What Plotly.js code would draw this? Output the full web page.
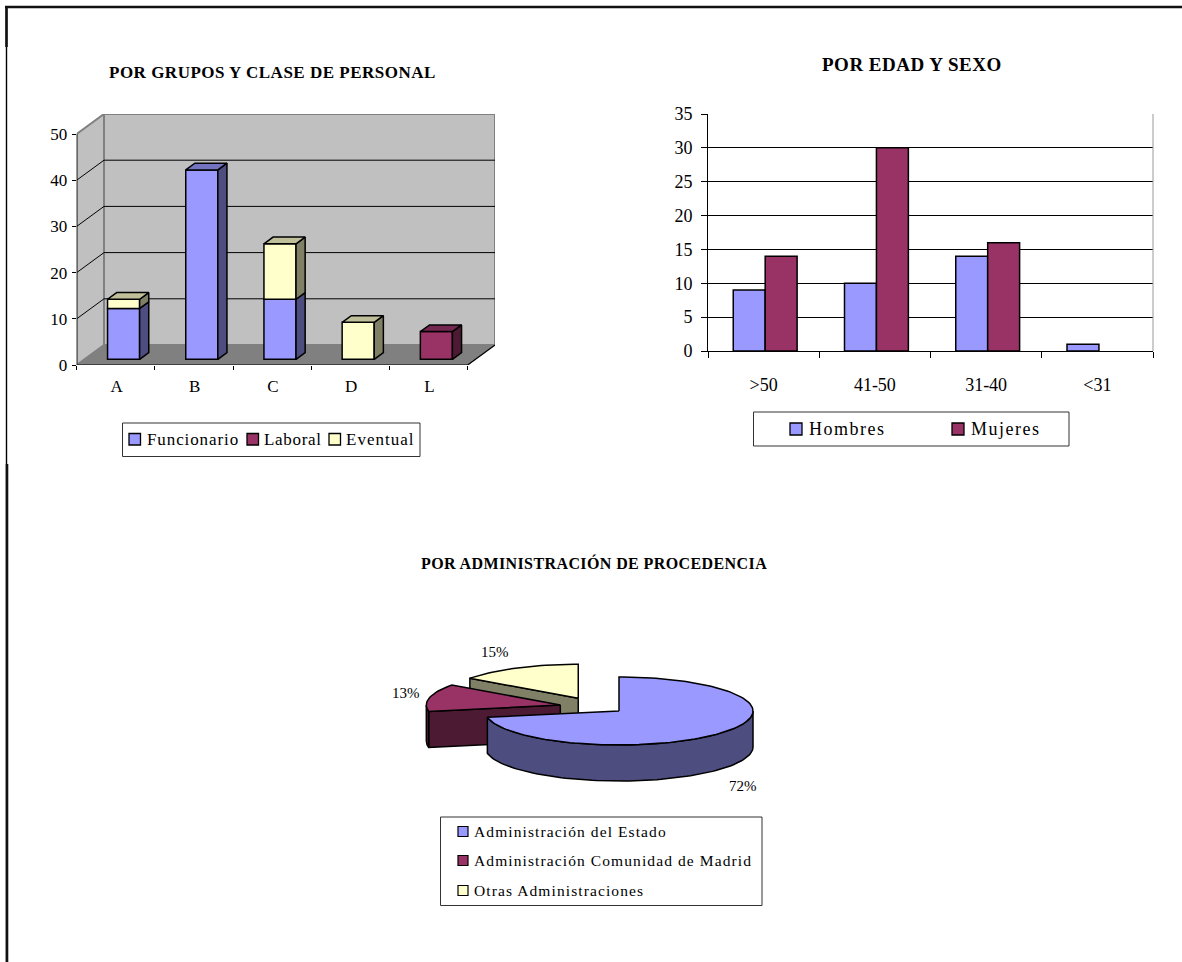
<!DOCTYPE html>
<html><head><meta charset="utf-8">
<script src="https://cdn.plot.ly/plotly-3.0.1.min.js"></script>
<style>html,body{margin:0;padding:0;background:#fff}#c{width:1182px;height:962px}</style>
</head><body><div id="c"></div>
<script>
// ---- data ----
const groupCats = ['A','B','C','D','L'];
const funcionario = [11,41,13,0,0];
const laboral = [0,0,0,0,6];
const eventual = [2,0,12,8,0];
const ageCats = ['>50','41-50','31-40','<31'];
const hombres = [9,10,14,1];
const mujeres = [14,30,16,0];
const adminNames = ['Administración del Estado','Administración Comunidad de Madrid','Otras Administraciones'];
const adminShares = [72,13,15];

// ---- style ----
const W=1182,H=962,SERIF='"Liberation Serif","Times New Roman",serif';
const BLUE=['#9999FF','#4D4D80','#7373C0'],MAR=['#993366','#4D1A33','#732650'],YEL=['#FFFFCC','#808066','#BFBF99'];
const px=x=>x/W, py=y=>1-y/H;
const traces=[],shapes=[],annotations=[];
const face=(xs,ys,fill,xa,ya,w)=>traces.push({type:'scatter',mode:'lines',x:[...xs,xs[0]],y:[...ys,ys[0]],fill:'toself',fillcolor:fill,
  line:{color:'#000',width:w||1.5},xaxis:xa,yaxis:ya,hoverinfo:'skip',showlegend:false});
const label=(t,x,y,size,opt={})=>annotations.push(Object.assign({text:t,xref:'paper',yref:'paper',x:px(x),y:py(y),showarrow:false,xanchor:'left',yanchor:'middle',
  font:{family:SERIF,size:size,color:'#000'},borderpad:0},opt));
const spaced=(t,s)=>`<span style="letter-spacing:${s}px">${t}</span>`;
const pbox=(x0,y0,x1,y1,fill,lc,lw)=>shapes.push({type:'rect',xref:'paper',yref:'paper',x0:px(x0),x1:px(x1),y0:py(y0),y1:py(y1),fillcolor:fill,line:{color:lc,width:lw},layer:'above'});
const pline=(x0,y0,x1,y1,lc,lw)=>shapes.push({type:'line',xref:'paper',yref:'paper',x0:px(x0),x1:px(x1),y0:py(y0),y1:py(y1),line:{color:lc,width:lw},layer:'above'});
const noZero=a=>a.map(v=>v||null);

// page frame
pline(5,7,1182,7,'#111',2.4);
pline(6.5,7,6.5,962,'#000',1.4);
pline(6.5,7,6.5,47,'#111',2.6);
pline(7,464,7,962,'#111',2.6);

// ---- left: stacked pseudo-3D columns ----
const L={x0:76.7,xf:467.7,y0:365,y50:134,dx:27.3,dy:20};
const catW=(L.xf-L.x0)/groupCats.length, unit=(L.y0-L.y50)/50, dxu=L.dx/catW, dyu=L.dy/unit;
const nC=groupCats.length,yBack=50+dyu,d0=0.285,d1=0.62,barW=0.41;
const xRange=[0,nC+dxu],yRange=[0,yBack];
const path=pts=>'M'+pts.map(p=>p[0]+','+p[1]).join('L');
const dshape=(pts,fill,lc,lw,close=true)=>shapes.push({type:'path',xref:'x',yref:'y',path:path(pts)+(close?'Z':''),fillcolor:fill,line:{color:lc,width:lw},layer:'below'});
dshape([[dxu,dyu],[nC+dxu,dyu],[nC+dxu,yBack],[dxu,yBack]],'#C0C0C0','#808080',2);
dshape([[0,0],[dxu,dyu],[dxu,yBack],[0,50]],'#C0C0C0','#808080',2);
dshape([[0,0],[nC,0],[nC+dxu,dyu],[dxu,dyu]],'#808080','#808080',1);
[10,20,30,40].forEach(v=>dshape([[0,v],[dxu,v+dyu],[nC+dxu,v+dyu]],'rgba(0,0,0,0)','#000',1,false));
dshape([[nC,0],[nC+dxu,dyu]],'rgba(0,0,0,0)','#000',1.2,false);

const centers=groupCats.map((c,i)=>i+0.5);
const base0=groupCats.map(()=>d0*dyu);
const stackOrder=[[funcionario,BLUE,'Funcionario'],[laboral,MAR,'Laboral'],[eventual,YEL,'Eventual']];
let running=base0.slice();
const totals=groupCats.map((c,i)=>funcionario[i]+laboral[i]+eventual[i]);
const faces=[];
stackOrder.forEach(([vals,col,name])=>{
  const base=running.slice();
  traces.push({type:'bar',name,x:centers,y:noZero(vals),base:base,width:barW,offset:-barW/2+d0*dxu,marker:{color:col[0],line:{color:'#000',width:1.5}},xaxis:'x',yaxis:'y',showlegend:false,cliponaxis:false});
  vals.forEach((v,i)=>{
    if(!v) return;
    const xl=centers[i]-barW/2+d0*dxu,xr=xl+barW,b=base[i],t=b+v;
    const ddx=(d1-d0)*dxu,ddy=(d1-d0)*dyu;
    faces.push(()=>face([xr,xr+ddx,xr+ddx,xr],[b,b+ddy,t+ddy,t],col[1],'x','y'));
    if(Math.abs(t-base0[i]-totals[i])<1e-9) faces.push(()=>face([xl,xr,xr+ddx,xl+ddx],[t,t,t+ddy,t+ddy],col[2],'x','y'));
  });
  running=running.map((r,i)=>r+vals[i]);
});
faces.forEach(f=>f());
traces.push({type:'scatter',mode:'lines',x:[0,0,nC],y:[50,0,0],line:{color:'#000',width:1.2},xaxis:'x',yaxis:'y',hoverinfo:'skip',showlegend:false});

label('<b>'+spaced('POR GRUPOS Y CLASE DE PERSONAL',0.5)+'</b>',272,73,17,{xanchor:'center'});
pbox(122.5,423,420,456.5,'#fff','#333',1);
[[129,146,stackOrder[0],0.9],[247,263,stackOrder[1],0.7],[329,345,stackOrder[2],1]].forEach(([sx,tx,s,ls])=>{
  pbox(sx,433.5,sx+11.5,445,s[1][0],'#000',1.3);
  label(spaced(s[2],ls),tx,439,17);
});

// ---- right: clustered columns ----
const bw=0.287,nudge=0.014;
traces.push({type:'bar',name:'Hombres',x:ageCats,y:noZero(hombres),width:bw,offset:-bw+nudge,marker:{color:BLUE[0],line:{color:'#000',width:1.5}},xaxis:'x2',yaxis:'y2',showlegend:false});
traces.push({type:'bar',name:'Mujeres',x:ageCats,y:noZero(mujeres),width:bw,offset:nudge,marker:{color:MAR[0],line:{color:'#000',width:1.5}},xaxis:'x2',yaxis:'y2',showlegend:false});
pline(1153,114,1153,351,'#999',1);
label('<b>'+spaced('POR EDAD Y SEXO',0.5)+'</b>',912,65,19,{xanchor:'center'});
pbox(753.5,412,1069,446,'#fff','#333',1);
[[790,808,'Hombres',BLUE],[952,970,'Mujeres',MAR]].forEach(([sx,tx,n,col])=>{
  pbox(sx,423,sx+12,435,col[0],'#000',1.3);
  label(spaced(n,1.5),tx,429,18);
});

// ---- bottom: exploded pseudo-3D pie ----
const P={cx:619,cy:711,rx:134,ry:34,depth:36/34};
const offs=[[0,0],[-0.438,0.176],[-0.304,0.374]];
const totalShare=adminShares.reduce((a,b)=>a+b,0);
let acc=0;
const slices=adminShares.map((s,i)=>{const a0=acc/totalShare*360;acc+=s;return {a0,a1:acc/totalShare*360,o:offs[i],col:[BLUE,MAR,YEL][i]};});
const arc=(s,from,to,dy=0)=>{const n=Math.max(2,Math.ceil(Math.abs(to-from)/2)),X=[],Y=[];
  for(let k=0;k<=n;k++){const a=(from+(to-from)*k/n)*Math.PI/180;X.push(s.o[0]+Math.sin(a));Y.push(s.o[1]+Math.cos(a)-dy);}return [X,Y];};
const D=P.depth;
[2,1,0].forEach(i=>{
  const s=slices[i],[ox,oy]=s.o;
  if(i>0){const a=s.a0*Math.PI/180,ex=ox+Math.sin(a),ey=oy+Math.cos(a);
    face([ox,ex,ex,ox],[oy,ey,ey-D,oy-D],s.col[1],'x3','y3');}
  const from=Math.max(s.a0,90),to=Math.min(s.a1,270);
  if(to>from){const [ax,ay]=arc(s,from,to),[bx,by]=arc(s,to,from,D);face([...ax,...bx],[...ay,...by],s.col[1],'x3','y3');}
  const [tx,ty]=arc(s,s.a0,s.a1);
  face([ox,...tx],[oy,...ty],s.col[0],'x3','y3');
});
[[743,786],[406,693],[495,652]].forEach(([x,y],i)=>label(adminShares[i]+'%',x,y,15,{xanchor:'center'}));
label('<b>'+spaced('POR ADMINISTRACIÓN DE PROCEDENCIA',0.4)+'</b>',594,563,16,{xanchor:'center'});
pbox(440.5,817,762,905.5,'#fff','#333',1);
adminNames.forEach((n,i)=>{
  const y=[832,861,891][i];
  pbox(458,y-5.5,468,y+4.5,[BLUE,MAR,YEL][i][0],'#000',1.2);
  label(spaced(n,1.1),473,y-1,15.5);
});

const axBase={fixedrange:true,zeroline:false,showgrid:false};
const tf={family:SERIF,size:18,color:'#000'};
const tfL={family:SERIF,size:17,color:'#000'};
const layout={width:W,height:H,margin:{l:0,r:0,t:0,b:0},paper_bgcolor:'#fff',plot_bgcolor:'rgba(0,0,0,0)',barmode:'overlay',showlegend:false,
  shapes,annotations,font:{family:SERIF,color:'#000'},
  xaxis:{...axBase,domain:[px(L.x0),px(L.xf+L.dx)],range:xRange,tickmode:'array',tickvals:centers.map(c=>c+0.01),ticktext:groupCats,ticks:'',tickfont:tfL,ticklabelstandoff:9,anchor:'y',
    minor:{tickmode:'array',tickvals:[0,1,2,3,4,5],ticks:'outside',ticklen:4,tickcolor:'#000',tickwidth:1,showgrid:false}},
  yaxis:{...axBase,domain:[py(L.y0),py(L.y50-L.dy)],range:yRange,tickmode:'array',tickvals:[0,10,20,30,40,50],ticks:'outside',ticklen:4,tickcolor:'#000',tickfont:tfL,ticklabelstandoff:1,anchor:'x'},
  xaxis2:{...axBase,type:'category',categoryorder:'array',categoryarray:ageCats,domain:[px(708),px(1153)],range:[-0.5,3.5],tickson:'boundaries',ticks:'outside',ticklen:6,tickcolor:'#000',tickfont:tf,ticklabelstandoff:17,showline:true,linecolor:'#000',linewidth:1,anchor:'y2'},
  yaxis2:{...axBase,domain:[py(351),py(114)],range:[0,35],tickmode:'array',tickvals:[0,5,10,15,20,25,30,35],ticks:'outside',ticklen:6,tickcolor:'#000',tickfont:tf,ticklabelstandoff:5,showgrid:true,gridcolor:'#000',gridwidth:1,showline:true,linecolor:'#000',linewidth:1,anchor:'x2'},
  xaxis3:{...axBase,visible:false,domain:[px(380),px(780)],range:[(380-P.cx)/P.rx,(780-P.cx)/P.rx],anchor:'y3'},
  yaxis3:{...axBase,visible:false,domain:[py(800),py(640)],range:[(P.cy-800)/P.ry,(P.cy-640)/P.ry],anchor:'x3'}
};
Plotly.newPlot('c',traces,layout,{displayModeBar:false,staticPlot:true});
</script></body></html>
